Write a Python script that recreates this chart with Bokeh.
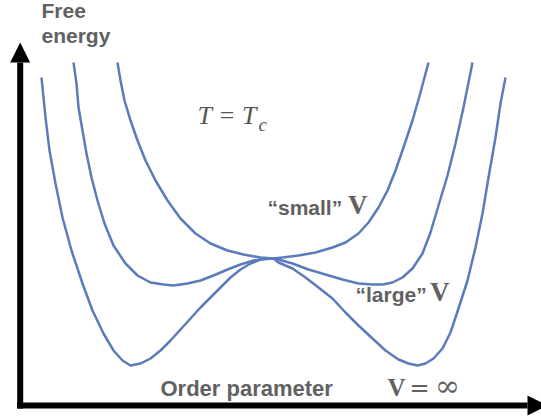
from bokeh.plotting import figure
from bokeh.models import Range1d, Label, Arrow, NormalHead
from bokeh.embed import file_html
from bokeh.resources import INLINE

# ---- data (order parameter, free energy) ----
phi_inf = [-2.32, -2.28, -2.24, -2.18, -2.11, -2.02, -1.91, -1.81, -1.70, -1.60, -1.51,
           -1.43, -1.33, -1.23, -1.13, -1.03, -0.93, -0.83, -0.73, -0.63, -0.53, -0.43,
           -0.33, -0.23, -0.13, 0.00, 0.05, 0.19, 0.32, 0.45, 0.59, 0.72, 0.85, 0.99,
           1.12, 1.25, 1.35, 1.44, 1.52, 1.60, 1.69, 1.77, 1.85, 1.94, 2.02, 2.09, 2.15,
           2.22, 2.27, 2.32]
F_inf = [1.81, 1.41, 1.08, 0.75, 0.41, 0.08, -0.25, -0.52, -0.75, -0.92, -1.02,
         -1.07, -1.05, -1.00, -0.92, -0.82, -0.71, -0.60, -0.49, -0.39, -0.29, -0.19,
         -0.11, -0.05, -0.01, 0.00, -0.04, -0.10, -0.19, -0.29, -0.40, -0.54, -0.67, -0.80,
         -0.92, -1.01, -1.05, -1.07, -1.05, -1.00, -0.90, -0.74, -0.50, -0.22, 0.11, 0.45, 0.81,
         1.21, 1.55, 1.81]

phi_large = [-2.00, -1.97, -1.95, -1.91, -1.87, -1.82, -1.76, -1.69, -1.60, -1.48, -1.36,
             -1.23, -1.10, -1.00, -0.86, -0.73, -0.60, -0.46, -0.33, -0.20, -0.06, 0.00,
             0.05, 0.19, 0.35, 0.52, 0.69, 0.85, 0.99, 1.09, 1.19, 1.29, 1.39, 1.49, 1.57,
             1.65, 1.74, 1.82, 1.90, 1.99]
F_large = [1.96, 1.75, 1.51, 1.28, 1.05, 0.81, 0.58, 0.35, 0.13, -0.05, -0.17,
           -0.24, -0.26, -0.27, -0.25, -0.22, -0.17, -0.11, -0.06, -0.02, 0.00, 0.00,
           -0.01, -0.05, -0.11, -0.16, -0.21, -0.25, -0.26, -0.26, -0.24, -0.19, -0.10, 0.05, 0.26,
           0.53, 0.83, 1.15, 1.51, 1.96]

phi_small = [-1.56, -1.53, -1.49, -1.43, -1.36, -1.28, -1.18, -1.06, -0.93, -0.78, -0.63,
             -0.46, -0.30, -0.13, 0.00, 0.09, 0.25, 0.42, 0.59, 0.72, 0.85, 0.95, 1.05,
             1.14, 1.22, 1.30, 1.39, 1.47, 1.55]
F_small = [1.96, 1.78, 1.58, 1.38, 1.18, 0.98, 0.78, 0.58, 0.40, 0.25, 0.15,
           0.08, 0.04, 0.01, 0.00, 0.01, 0.03, 0.06, 0.11, 0.16, 0.25, 0.36, 0.51,
           0.68, 0.88, 1.11, 1.38, 1.66, 1.96]

y_title = ["Free", "energy"]
x_title = "Order parameter"
label_small = "\u201csmall\u201d"
label_large = "\u201clarge\u201d"

CURVE = "#5b7bbb"
GRAY = "#616161"

p = figure(width=541, height=419, x_range=Range1d(-2.73, 2.68), y_range=Range1d(-1.61, 2.58),
           output_backend="svg", toolbar_location=None, min_border=0)
p.outline_line_color = None
p.axis.visible = False
p.grid.visible = False
p.background_fill_color = "white"
p.border_fill_color = "white"

for xs, ys in [(phi_inf, F_inf), (phi_large, F_large), (phi_small, F_small)]:
    p.line(xs, ys, line_color=CURVE, line_width=2.5, line_join="round")

# axes arrows
p.add_layout(Arrow(end=NormalHead(size=20, fill_color="black", line_color="black", line_width=0),
                   x_start=-2.533, y_start=-1.50, x_end=-2.533, y_end=2.16,
                   line_width=6, line_color="black"))
p.add_layout(Arrow(end=NormalHead(size=20, fill_color="black", line_color="black", line_width=0),
                   x_start=-2.563, y_start=-1.47, x_end=2.74, y_end=-1.47,
                   line_width=6, line_color="black"))

def lab(x, y, t, font="Liberation Sans", size=21, style="bold", color=GRAY):
    p.add_layout(Label(x=x, y=y, text=t, text_font=font, text_font_size=f"{size}px",
                       text_font_style=style, text_color=color, text_baseline="alphabetic",
                       y_offset=round(0.4 * size)))

lab(-2.32, 2.40, y_title[0])
lab(-2.32, 2.15, y_title[1])
lab(-1.13, -1.39, x_title, size=22)

lab(-0.06, 0.43, label_small)
lab(0.745, 0.43, "V", font="Liberation Serif", size=27)
lab(0.82, -0.44, label_large)
lab(1.565, -0.44, "V", font="Liberation Serif", size=27)

lab(1.14, -1.39, "V", font="Liberation Serif", size=25)
lab(1.36, -1.39, "=", font="DejaVu Serif", size=24, style="normal")
lab(1.615, -1.39, "\u221e", font="DejaVu Serif", size=30, style="normal")

lab(-0.76, 1.33, "T = T", font="Liberation Serif", size=26, style="italic", color="#555555")
lab(-0.15, 1.26, "c", font="Liberation Serif", size=19, style="italic", color="#555555")

open("out.html", "w").write(file_html(p, INLINE))
